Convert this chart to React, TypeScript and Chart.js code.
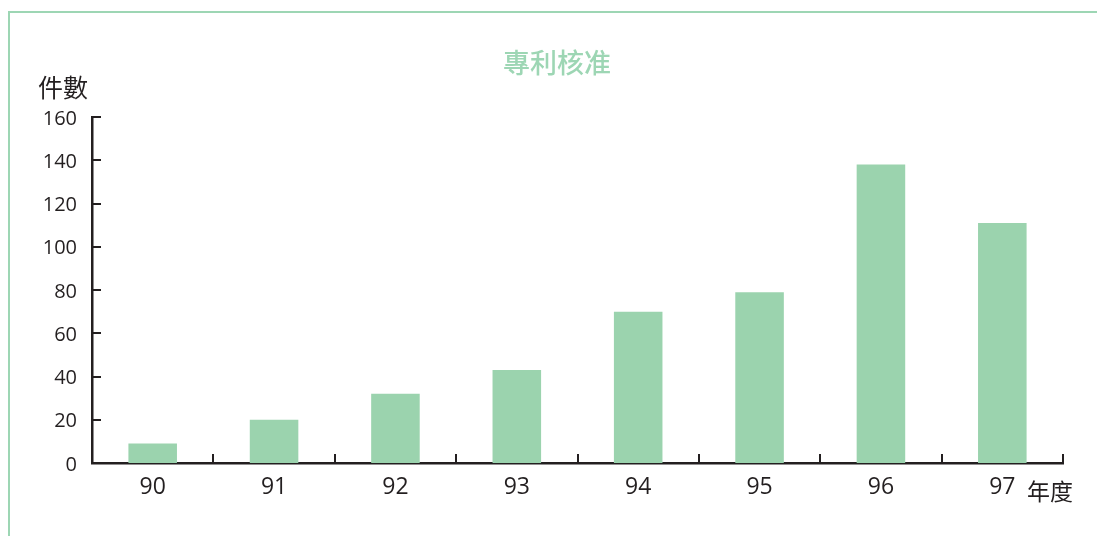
import React, { useEffect, useRef } from "react";
import { Chart, registerables } from "chart.js";

Chart.register(...registerables);

const categories = ["90", "91", "92", "93", "94", "95", "96", "97"];
const approvals = [9, 20, 32, 43, 70, 79, 138, 111];
const yMin = 0;
const yMax = 160;
const yStep = 20;

const titleText = "專利核准";
const yAxisTitle = "件數";
const xAxisTitle = "年度";

const BAR = "#9bd3ae";
const GREEN = "#9dd6b4";
const AXIS = "#231f20";
const CJK = '"Noto Sans CJK TC", "Noto Sans CJK SC", sans-serif';
const LATIN = '"Open Sans", "DejaVu Sans", sans-serif';

const decor = {
  id: "decor",
  afterDraw(chart: any) {
    const ctx = chart.ctx;
    const xs = chart.scales.x;
    const ys = chart.scales.y;
    ctx.save();
    ctx.strokeStyle = AXIS;
    ctx.lineWidth = 2;
    // inward y ticks
    ys.ticks.forEach((_t: any, i: number) => {
      const py = Math.round(ys.getPixelForTick(i));
      ctx.beginPath();
      ctx.moveTo(xs.left, py);
      ctx.lineTo(xs.left + 9, py);
      ctx.stroke();
    });
    // inward x ticks at category boundaries
    const n = categories.length;
    for (let i = 1; i <= n; i++) {
      const px = Math.round(xs.left + ((xs.right - xs.left) * i) / n);
      ctx.beginPath();
      ctx.moveTo(px, ys.bottom);
      ctx.lineTo(px, ys.bottom - 9);
      ctx.stroke();
    }
    // texts
    ctx.textBaseline = "middle";
    ctx.fillStyle = GREEN;
    ctx.textAlign = "center";
    ctx.font = `500 27px ${CJK}`;
    ctx.fillText(titleText, 557, 63);

    ctx.fillStyle = AXIS;
    ctx.textAlign = "left";
    ctx.font = `25px ${CJK}`;
    ctx.fillText(yAxisTitle, 38, 87);
    ctx.font = `23px ${CJK}`;
    ctx.fillText(xAxisTitle, 1027, 491);
    ctx.restore();
  },
};

export default function App() {
  const ref = useRef<HTMLCanvasElement | null>(null);
  useEffect(() => {
    if (!ref.current) return;
    const chart = new Chart(ref.current, {
      type: "bar",
      data: {
        labels: categories,
        datasets: [
          {
            data: approvals,
            backgroundColor: BAR,
            borderWidth: 0,
            barPercentage: 0.4,
            categoryPercentage: 1,
          },
        ],
      },
      options: {
        responsive: false,
        animation: false,
        layout: { padding: { left: 0, top: 117, right: 34, bottom: 0 } },
        plugins: {
          legend: { display: false },
          tooltip: { enabled: false },
          title: { display: false },
        },
        scales: {
          x: {
            grid: { display: false, drawTicks: false },
            border: { display: true, color: AXIS, width: 2.5 },
            ticks: { color: AXIS, font: { family: LATIN, size: 23 }, padding: 11 },
            afterFit: (s: any) => {
              s.height = 73;
            },
          },
          y: {
            min: yMin,
            max: yMax,
            grid: { display: false, drawTicks: false },
            border: { display: true, color: AXIS, width: 2.5 },
            ticks: {
              stepSize: yStep,
              color: AXIS,
              font: { family: LATIN, size: 20 },
              padding: 15,
              labelOffset: 2,
            },
            afterFit: (s: any) => {
              s.width = 92;
            },
          },
        },
      },
      plugins: [decor],
    });
    return () => chart.destroy();
  }, []);

  return (
    <div style={{ position: "absolute", left: 0, top: 0, width: 1097, height: 536, background: "#fff", overflow: "hidden" }}>
      <div
        style={{
          position: "absolute",
          left: 8,
          top: 11,
          width: 1200,
          height: 600,
          borderTop: `2px solid ${GREEN}`,
          borderLeft: `2px solid ${GREEN}`,
        }}
      />
      <canvas
        ref={ref}
        width={1097}
        height={536}
        style={{ position: "absolute", left: 0, top: 0, width: 1097, height: 536 }}
      />
    </div>
  );
}
